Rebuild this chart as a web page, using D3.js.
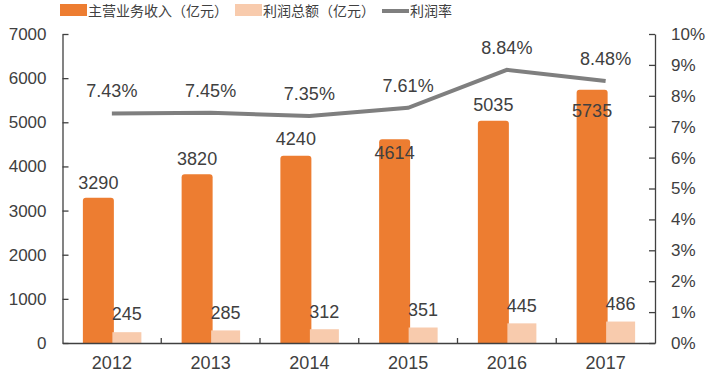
<!DOCTYPE html>
<html>
<head>
<meta charset="utf-8">
<script src="https://cdn.jsdelivr.net/npm/d3@7"></script>
<style>
  body { margin: 0; background: #fff; }
  text { font-family: "Liberation Sans", Arial, sans-serif; fill: #404040; }
  .cn { font-family: "Noto Sans CJK SC", sans-serif; }
</style>
</head>
<body>
<script>
// chart data
var years = ['2012', '2013', '2014', '2015', '2016', '2017'];
var revenue = [3290, 3820, 4240, 4614, 5035, 5735];
var profit = [245, 285, 312, 351, 445, 486];
var margin = [0.0743, 0.0745, 0.0735, 0.0761, 0.0884, 0.0848];
var leftTicks = [0, 1000, 2000, 3000, 4000, 5000, 6000, 7000];
var rightTicks = [0, 0.01, 0.02, 0.03, 0.04, 0.05, 0.06, 0.07, 0.08, 0.09, 0.10];
var seriesNames = ['主营业务收入（亿元）', '利润总额（亿元）', '利润率'];

// label nudges (revenue labels sit inside the bar for some years)
var revLabelDy = [-15, -16, -17, 13, -16, 21];

var width = 710, height = 376;
var orange = '#ED7D31', peach = '#F8CBAD', grey = '#7F7F7F', axisCol = '#404040';

var svg = d3.select('body')
  .append('svg')
  .attr('width', width)
  .attr('height', height);

var x = d3.scaleBand()
  .domain(years)
  .range([62.5, 655]);

var yL = d3.scaleLinear()
  .domain([0, 7000])
  .range([343, 34]);

var yR = d3.scaleLinear()
  .domain([0, 0.1])
  .range([343, 34]);

var cx = function(d) { return x(d) + x.bandwidth() / 2; };

// bars
var revW = 31, profW = 29;
svg.selectAll('.rev')
  .data(years)
  .enter()
  .append('path')
  .attr('fill', orange)
  .attr('d', function(d, i) {
    var x0 = cx(d) - 29, x1 = x0 + revW, y0 = yL(revenue[i]), yb = yL(0), r = 3;
    return 'M' + x0 + ',' + yb + 'V' + (y0 + r) + 'Q' + x0 + ',' + y0 + ' ' + (x0 + r) + ',' + y0 +
      'H' + (x1 - r) + 'Q' + x1 + ',' + y0 + ' ' + x1 + ',' + (y0 + r) + 'V' + yb + 'Z';
  });

svg.selectAll('.prof')
  .data(years)
  .enter()
  .append('rect')
  .attr('fill', peach)
  .attr('x', function(d) { return cx(d) + 0.5; })
  .attr('width', profW)
  .attr('y', function(d, i) { return yL(profit[i]); })
  .attr('height', function(d, i) { return yL(0) - yL(profit[i]); });

// axes
var leftAxis = d3.axisLeft(yL).tickValues(leftTicks).tickFormat(d3.format('d'))
  .tickSize(-6).tickSizeOuter(0).tickPadding(16);
var gL = svg.append('g').attr('transform', 'translate(62.5,0)').call(leftAxis);

var rightAxis = d3.axisRight(yR).tickValues(rightTicks).tickFormat(d3.format('.0%'))
  .tickSize(-6).tickSizeOuter(0).tickPadding(16);
var gR = svg.append('g').attr('transform', 'translate(655,0)').call(rightAxis);

var bottomAxis = d3.axisBottom(x).tickSize(0).tickPadding(11);
var gB = svg.append('g').attr('transform', 'translate(0,343)').call(bottomAxis);

[gL, gR, gB].forEach(function(g) {
  g.selectAll('path, line').attr('stroke', axisCol).attr('stroke-width', 1.3);
  g.selectAll('text').attr('fill', '#404040').style('font-family', '"Liberation Sans", Arial, sans-serif');
});
gL.selectAll('text').style('font-size', '17px');
gR.selectAll('text').style('font-size', '17px').attr('x', 16);
gB.selectAll('text').style('font-size', '18px').attr('dy', '0.85em');

// category boundary ticks on x axis
svg.selectAll('.xtick')
  .data(years.slice(1))
  .enter()
  .append('line')
  .attr('x1', function(d) { return x(d); })
  .attr('x2', function(d) { return x(d); })
  .attr('y1', 343)
  .attr('y2', 338)
  .attr('stroke', axisCol)
  .attr('stroke-width', 1.3);

// profit margin line
var line = d3.line()
  .x(function(d) { return cx(d); })
  .y(function(d, i) { return yR(margin[i]); });

svg.append('path')
  .datum(years)
  .attr('d', line)
  .attr('fill', 'none')
  .attr('stroke', grey)
  .attr('stroke-width', 4);

// data labels
svg.selectAll('.revLabel')
  .data(years)
  .enter()
  .append('text')
  .attr('x', function(d) { return cx(d) - 29 + revW / 2; })
  .attr('y', function(d, i) { return yL(revenue[i]) + revLabelDy[i]; })
  .attr('dy', '0.35em')
  .attr('text-anchor', 'middle')
  .style('font-size', '18px')
  .text(function(d, i) { return revenue[i]; });

svg.selectAll('.profLabel')
  .data(years)
  .enter()
  .append('text')
  .attr('x', function(d) { return cx(d) + 0.5 + profW / 2; })
  .attr('y', function(d, i) { return yL(profit[i]) - 18; })
  .attr('dy', '0.35em')
  .attr('text-anchor', 'middle')
  .style('font-size', '18px')
  .text(function(d, i) { return profit[i]; });

svg.selectAll('.marginLabel')
  .data(years)
  .enter()
  .append('text')
  .attr('x', function(d) { return cx(d); })
  .attr('y', function(d, i) { return yR(margin[i]) - 22.5; })
  .attr('dy', '0.35em')
  .attr('text-anchor', 'middle')
  .style('font-size', '18px')
  .text(function(d, i) { return d3.format('.2%')(margin[i]); });

// legend
var legendX = [60, 235, 382];
var legend = svg.selectAll('.legend')
  .data(seriesNames)
  .enter()
  .append('g')
  .attr('transform', function(d, i) { return 'translate(' + legendX[i] + ',0)'; });

legend.each(function(d, i) {
  var g = d3.select(this);
  if (i < 2) {
    g.append('rect').attr('x', 0).attr('y', 4).attr('width', 27).attr('height', 12)
      .attr('fill', i === 0 ? orange : peach);
  } else {
    g.append('line').attr('x1', 0).attr('x2', 27).attr('y1', 11).attr('y2', 11)
      .attr('stroke', grey).attr('stroke-width', 4);
  }
  g.append('text')
    .attr('class', 'cn')
    .attr('x', 28)
    .attr('y', 11)
    .attr('dy', '0.35em')
    .style('font-size', '14px')
    .text(d);
});
</script>
</body>
</html>
